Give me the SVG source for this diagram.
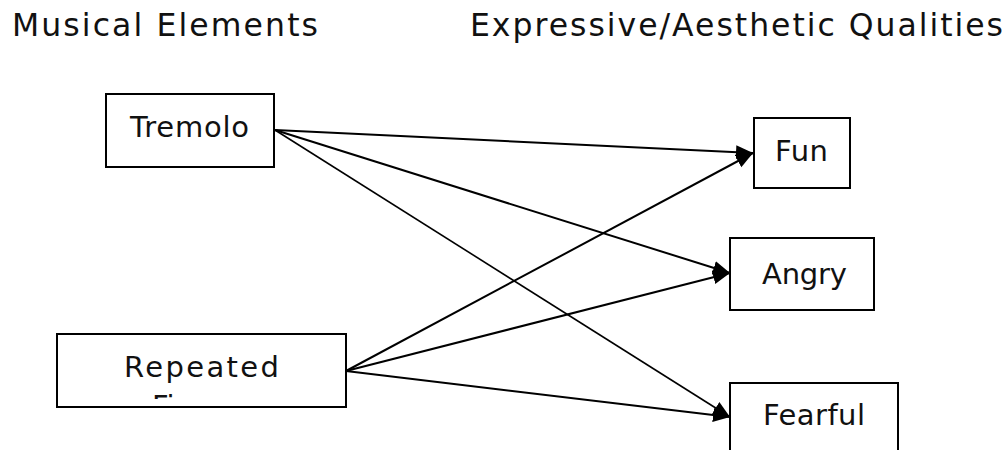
<svg xmlns="http://www.w3.org/2000/svg" width="1006" height="450" viewBox="0 0 1006 450">
  <style>
    text { font-family: "DejaVu Sans", "Liberation Sans", sans-serif; fill: #111; }
    .title { font-size: 31.5px; }
    .lbl { font-size: 29px; }
    .box { fill: #fff; stroke: #000; stroke-width: 2; }
    .conn { stroke: #000; stroke-width: 2; fill: none; marker-end: url(#arrow); }
  </style>
  <defs>
    <marker id="arrow" markerUnits="userSpaceOnUse" markerWidth="19" markerHeight="15" refX="17" refY="7.5" orient="auto">
      <path d="M0,0.5 L17,7.5 L0,14.5 z" fill="#000"/>
    </marker>
    <clipPath id="repClip">
      <rect x="58" y="335" width="287" height="64"/>
    </clipPath>
  </defs>
  <rect width="1006" height="450" fill="#fff"/>

  <g id="titles">
    <text class="title" x="12" y="36" textLength="306">Musical Elements</text>
    <text class="title" x="470" y="36" textLength="533">Expressive/Aesthetic Qualities</text>
  </g>

  <g id="connectors">
    <line class="conn" x1="275" y1="130" x2="753" y2="153"/>
    <line class="conn" x1="275" y1="130" x2="730" y2="273"/>
    <line class="conn" x1="275" y1="130" x2="730" y2="417" style="stroke-width:1.6"/>
    <line class="conn" x1="346" y1="371" x2="753" y2="153"/>
    <line class="conn" x1="346" y1="371" x2="730" y2="273"/>
    <line class="conn" x1="346" y1="371" x2="730" y2="417"/>
  </g>

  <g id="node-tremolo">
    <rect class="box" x="106" y="94" width="168" height="73"/>
    <text class="lbl" x="130" y="137" textLength="119">Tremolo</text>
  </g>

  <g id="node-repeated">
    <rect class="box" x="57" y="334" width="289" height="73"/>
    <text class="lbl" x="124" y="377" textLength="155">Repeated</text>
    <text class="lbl" x="152" y="416" clip-path="url(#repClip)">Figures</text>
  </g>

  <g id="node-fun">
    <rect class="box" x="754" y="118" width="96" height="70"/>
    <text class="lbl" x="775" y="161" textLength="53">Fun</text>
  </g>

  <g id="node-angry">
    <rect class="box" x="730" y="238" width="144" height="72"/>
    <text class="lbl" x="762" y="284" textLength="85">Angry</text>
  </g>

  <g id="node-fearful">
    <rect class="box" x="730" y="383" width="168" height="80"/>
    <text class="lbl" x="763" y="425" textLength="102">Fearful</text>
  </g>
</svg>
